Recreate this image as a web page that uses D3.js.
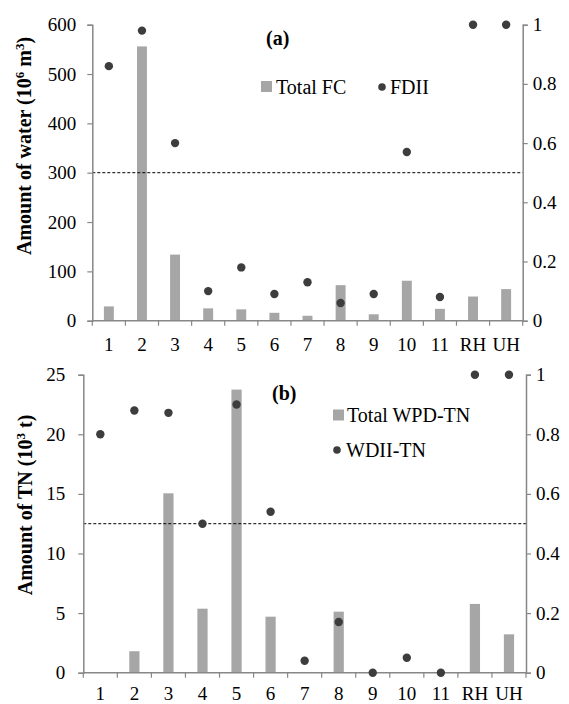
<!DOCTYPE html>
<html>
<head>
<meta charset="utf-8">
<script src="https://cdn.jsdelivr.net/npm/d3@7"></script>
<style>
  html, body { margin: 0; padding: 0; background: #fff; }
  svg text { font-family: "Liberation Serif", "Times New Roman", Times, "DejaVu Serif", serif; fill: #000; }
</style>
</head>
<body>
<svg id="chart" width="569" height="704"></svg>
<script>
// Sub-basin categories shared by both panels
const categories = ["1", "2", "3", "4", "5", "6", "7", "8", "9", "10", "11", "RH", "UH"];

// Panel (a): total flow change (10^6 m3) and FDII index
const totalFC = [29, 556, 134, 25, 23, 16, 10, 72, 13, 81, 24, 49, 64];
const fdii = [0.86, 0.98, 0.60, 0.10, 0.18, 0.09, 0.13, 0.06, 0.09, 0.57, 0.08, 1.0, 1.0];
const leftTicksA = [0, 100, 200, 300, 400, 500, 600];

// Panel (b): total WPD-TN (10^3 t) and WDII-TN index
const totalWPD = [0, 1.8, 15.05, 5.37, 23.75, 4.7, 0, 5.12, 0, 0, 0, 5.77, 3.22];
const wdii = [0.80, 0.88, 0.872, 0.50, 0.90, 0.54, 0.04, 0.17, 0, 0.05, 0, 1.0, 1.0];
const leftTicksB = [0, 5, 10, 15, 20, 25];

const rightTicks = [0, 0.2, 0.4, 0.6, 0.8, 1];
const threshold = 0.5;

const SERIF = '"Liberation Serif", "Times New Roman", Times, "DejaVu Serif", serif';
const BAR = "#a6a6a6", DOT = "#3d3d3d", AXIS = "#878787";
const svg = d3.select("#chart").style("font-family", SERIF);

function drawPanel(cfg) {
  const g = svg.append("g");
  const x = d3.scaleBand().domain(categories)
    .range([cfg.x0, cfg.x1]).paddingInner(0.7).paddingOuter(0.35);
  const yL = d3.scaleLinear().domain(cfg.leftDomain).range([cfg.yB, cfg.yT]);
  const yR = d3.scaleLinear().domain([0, 1]).range([cfg.yB, cfg.yT]);

  // bars
  g.selectAll("rect.bar").data(cfg.bars).join("rect")
    .attr("class", "bar")
    .attr("x", (d, i) => x(categories[i]))
    .attr("width", x.bandwidth())
    .attr("y", d => yL(d))
    .attr("height", d => yL(0) - yL(d))
    .attr("fill", BAR);

  // threshold line on the index axis
  g.append("line")
    .attr("x1", cfg.x0).attr("x2", cfg.x1)
    .attr("y1", yR(threshold)).attr("y2", yR(threshold))
    .attr("stroke", "#000").attr("stroke-width", 1)
    .attr("stroke-dasharray", "3,2");

  // left axis
  const axL = g.append("g").attr("transform", `translate(${cfg.x0},0)`)
    .call(d3.axisLeft(yL).tickValues(cfg.leftTicks).tickSize(5).tickPadding(cfg.padL).tickFormat(d3.format("d")));
  // right axis
  const axR = g.append("g").attr("transform", `translate(${cfg.x1},0)`)
    .call(d3.axisRight(yR).tickValues(rightTicks).tickSize(5).tickPadding(5).tickFormat(d => d === 0 ? "0" : d === 1 ? "1" : d3.format(".1f")(d)));
  [axL, axR].forEach(a => {
    a.attr("font-family", SERIF);
    a.select(".domain").attr("stroke", AXIS).attr("stroke-width", 1.5);
    a.selectAll(".tick line").attr("stroke", AXIS).attr("stroke-width", 1.2);
    a.selectAll(".tick text").attr("font-size", 19).style("font-family", SERIF).attr("fill", "#000");
  });

  // category axis with boundary ticks
  g.append("line")
    .attr("x1", cfg.x0).attr("x2", cfg.x1)
    .attr("y1", cfg.yB).attr("y2", cfg.yB)
    .attr("stroke", AXIS).attr("stroke-width", 1.5);
  const step = x.step();
  g.selectAll("line.xt").data(d3.range(categories.length + 1)).join("line")
    .attr("class", "xt")
    .attr("x1", i => cfg.x0 + i * step).attr("x2", i => cfg.x0 + i * step)
    .attr("y1", cfg.yB).attr("y2", cfg.yB + 5)
    .attr("stroke", AXIS).attr("stroke-width", 1.2);
  g.selectAll("text.xl").data(categories).join("text")
    .attr("class", "xl")
    .attr("x", d => x(d) + x.bandwidth() / 2)
    .attr("y", cfg.yB + cfg.xLabelGap)
    .attr("text-anchor", "middle")
    .attr("font-size", 19)
    .text(d => d);

  // index points
  g.selectAll("circle.pt").data(cfg.points).join("circle")
    .attr("class", "pt")
    .attr("cx", (d, i) => x(categories[i]) + x.bandwidth() / 2)
    .attr("cy", d => yR(d))
    .attr("r", 4.2)
    .attr("fill", DOT);

  // panel tag
  g.append("text")
    .attr("x", cfg.tag[0]).attr("y", cfg.tag[1])
    .attr("font-size", 20).attr("font-weight", "bold")
    .text(cfg.tagText);

  // vertical axis title
  const t = g.append("text")
    .attr("transform", `translate(${cfg.title[0]},${cfg.title[1]}) rotate(-90)`)
    .attr("text-anchor", "middle")
    .attr("dy", "0.35em")
    .attr("font-size", 20).attr("font-weight", "bold");
  cfg.titleParts.forEach(p => {
    const s = t.append("tspan").text(p.t);
    if (p.sup) s.attr("font-size", 13).attr("baseline-shift", "super");
  });

  // legend
  cfg.legend.forEach(item => {
    if (item.type === "bar") {
      g.append("rect").attr("x", item.x).attr("y", item.y - 6)
        .attr("width", 11).attr("height", 11).attr("fill", BAR);
    } else {
      g.append("circle").attr("cx", item.x + 5).attr("cy", item.y)
        .attr("r", 3.8).attr("fill", DOT);
    }
    g.append("text").attr("x", item.tx).attr("y", item.y)
      .attr("dy", "0.33em").attr("font-size", 20).text(item.label);
  });
}

drawPanel({
  x0: 92.3, x1: 522.7, yT: 24.7, yB: 320.7, xLabelGap: 30,
  leftDomain: [0, 600], leftTicks: leftTicksA, padL: 11,
  bars: totalFC, points: fdii,
  tag: [266, 45], tagText: "(a)",
  title: [24, 146],
  titleParts: [{ t: "Amount of water (10" }, { t: "6", sup: true }, { t: " m" }, { t: "3", sup: true }, { t: ")" }],
  legend: [
    { type: "bar", x: 261, y: 87, tx: 276, label: "Total FC" },
    { type: "dot", x: 377, y: 87, tx: 390, label: "FDII" }
  ]
});

drawPanel({
  x0: 83.3, x1: 526, yT: 374.7, yB: 672.7, xLabelGap: 27,
  leftDomain: [0, 25], leftTicks: leftTicksB, padL: 13,
  bars: totalWPD, points: wdii,
  tag: [272, 400], tagText: "(b)",
  title: [25, 505],
  titleParts: [{ t: "Amount of TN (10" }, { t: "3", sup: true }, { t: " t)" }],
  legend: [
    { type: "bar", x: 333, y: 415.5, tx: 347, label: "Total WPD-TN" },
    { type: "dot", x: 332, y: 450, tx: 346, label: "WDII-TN" }
  ]
});
</script>
</body>
</html>
